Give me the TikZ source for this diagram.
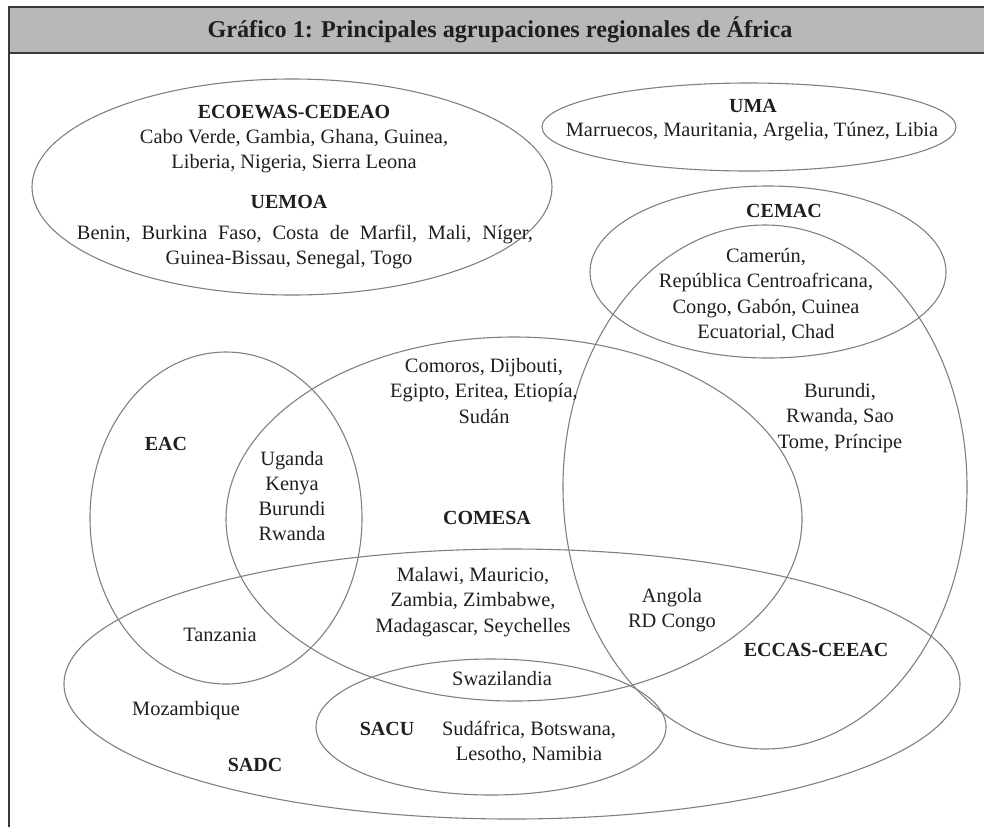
\documentclass[tikz,border=0pt]{standalone}
\usepackage{fontspec}
\setmainfont{Liberation Serif}

\begin{document}
\begin{tikzpicture}[x=0.5pt, y=-0.5pt,
    frame/.style={draw=framegray, line width=0.8pt},
    set/.style={draw=setgray, line width=0.55pt},
    group/.style={font=\fontsize{10}{12.5}\selectfont\bfseries, text=ink, inner sep=0pt},
    members/.style={font=\fontsize{10.2}{12.6}\selectfont, text=ink, align=center, inner sep=0pt}]
    \colorlet{ink}{black!88}
    \colorlet{setgray}{black!50}
    \colorlet{framegray}{black!78}
    \colorlet{barfill}{black!28}

    \useasboundingbox (0,0) rectangle (984,826);
    \clip (0,0) rectangle (984,826);

    % marco y barra del titulo
    \fill[barfill] (9,7) rectangle (1000,53);
    \draw[frame] (9,840) -- (9,7) -- (1000,7);
    \draw[frame] (9,53) -- (1000,53);
    \node[font=\fontsize{12.1}{14}\selectfont\bfseries, text=ink, inner sep=0pt] (title) at (500,30) {Gráfico 1: Principales agrupaciones regionales de África};

    % conjuntos
    \draw[set] (292,187) ellipse [x radius=260, y radius=108]; % ECOWAS
    \draw[set] (749,127) ellipse [x radius=207, y radius=44];  % UMA
    \draw[set] (768,272) ellipse [x radius=178, y radius=86];  % CEMAC
    \draw[set] (765,487) ellipse [x radius=202, y radius=262]; % ECCAS
    \draw[set] (514,519) ellipse [x radius=288, y radius=182]; % COMESA
    \draw[set] (226,518) ellipse [x radius=136, y radius=166]; % EAC
    \draw[set] (512,684) ellipse [x radius=448, y radius=135]; % SADC
    \draw[set] (491,727) ellipse [x radius=175, y radius=68];  % SACU

    % ECOWAS y UEMOA
    \node[group] (ecowas) at (294,112) {ECOEWAS-CEDEAO};
    \node[members] (ecowas-m) at (294,151) {Cabo Verde, Gambia, Ghana, Guinea,\\Liberia, Nigeria, Sierra Leona};
    \node[group] (uemoa) at (289,202) {UEMOA};
    \node[members] (uemoa-m1) at (305,235) {\spaceskip=5.4pt Benin, Burkina Faso, Costa de Marfil, Mali, Níger,};
    \node[members] (uemoa-m2) at (289,260) {Guinea-Bissau, Senegal, Togo};

    % UMA
    \node[group] (uma) at (753,106) {UMA};
    \node[members] (uma-m) at (752,132) {Marruecos, Mauritania, Argelia, Túnez, Libia};

    % CEMAC y ECCAS
    \node[group] (cemac) at (784,211) {CEMAC};
    \node[members] (cemac-m) at (766,295) {Camerún,\\República Centroafricana,\\Congo, Gabón, Cuinea\\Ecuatorial, Chad};
    \node[members] (eccas-m) at (840,418) {Burundi,\\Rwanda, Sao\\Tome, Príncipe};
    \node[group] (eccas) at (816,650) {ECCAS-CEEAC};
    \node[members] (angola) at (672,610) {Angola\\RD Congo};

    % COMESA y EAC
    \node[members] (comesa-m) at (484,391) {Comoros, Dijbouti,\\Egipto, Eritea, Etiopía,\\Sudán};
    \node[group] (comesa) at (487,518) {COMESA};
    \node[group] (eac) at (166,444) {EAC};
    \node[members] (eac-m) at (292,496) {Uganda\\Kenya\\Burundi\\Rwanda};
    \node[members] (tanzania) at (220,635) {Tanzania};

    % SADC y SACU
    \node[members] (sadc-m) at (473,602) {Malawi, Mauricio,\\Zambia, Zimbabwe,\\Madagascar, Seychelles};
    \node[members] (swazi) at (502,679) {Swazilandia};
    \node[members] (mozambique) at (186,711) {Mozambique};
    \node[group] (sadc) at (255,765) {SADC};
    \node[group] (sacu) at (387,729) {SACU};
    \node[members] (sacu-m) at (529,742) {Sudáfrica, Botswana,\\Lesotho, Namibia};
\end{tikzpicture}
\end{document}
